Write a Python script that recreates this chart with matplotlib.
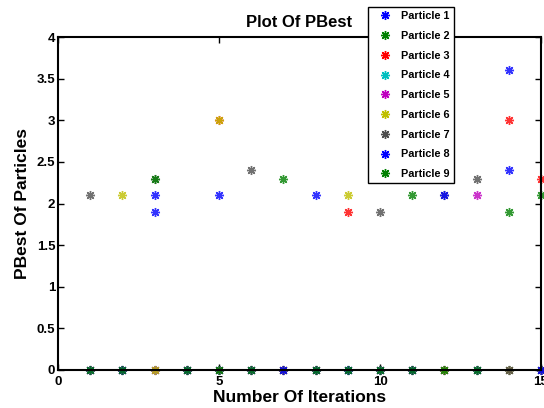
import numpy as np
import matplotlib
matplotlib.use("Agg")
import matplotlib.pyplot as plt

plt.rcParams['font.family'] = ['Liberation Sans', 'DejaVu Sans']
plt.rcParams['font.weight'] = 'bold'

# pbest of each particle per iteration (1..15)
iterations = np.arange(1, 16)
p1 = [0, 0, 2.1, 0, 0, 0, 0, 2.1, 0, 0, 0, 0, 0, 3.6, 0]
p2 = [0, 0, 0, 0, 0, 0, 0, 0, 0, 0, 2.1, 0, 0, 0, 0]
p3 = [0, 0, 0, 0, 3.0, 0, 0, 0, 1.9, 0, 0, 0, 0, 3.0, 2.3]
p4 = [0, 0, 0, 0, 0, 0, 0, 0, 0, 0, 0, 0, 0, 0, 0]
p5 = [0, 0, 0, 0, 0, 0, 0, 0, 0, 0, 0, 0, 2.1, 0, 0]
p6 = [0, 2.1, 0, 0, 3.0, 0, 0, 0, 2.1, 0, 0, 0, 0, 0, 0]
p7 = [2.1, 0, 2.3, 0, 0, 2.4, 0, 0, 0, 1.9, 0, 2.1, 2.3, 0, 0]
p8 = [0, 0, 1.9, 0, 2.1, 0, 0, 0, 0, 0, 0, 2.1, 0, 2.4, 0]
p9 = [0, 0, 2.3, 0, 0, 0, 2.3, 0, 0, 0, 0, 0, 0, 1.9, 2.1]
particles = [p1, p2, p3, p4, p5, p6, p7, p8, p9]
labels = ["Particle %d" % (i + 1) for i in range(9)]

# matlab default colour order
colors = [(0, 0, 1), (0, 0.5, 0), (1, 0, 0), (0, 0.75, 0.75),
          (0.75, 0, 0.75), (0.75, 0.75, 0), (0.3, 0.3, 0.3),
          (0, 0, 1), (0, 0.5, 0)]

fig = plt.figure(figsize=(5.44, 4.08), dpi=100)
ax = fig.add_axes([58 / 544, 1 - 370 / 408, 483 / 544, 333 / 408])

for vals, col, lab in zip(particles, colors, labels):
    # semi-transparent so overlapping marks blend like the original
    ax.plot(iterations, vals, linestyle='none', marker=(8, 2, 0),
            markersize=6.5, markeredgewidth=1.0, color=col, alpha=0.8,
            label=lab, clip_on=False)

ax.set_xlim(0, 15)
ax.set_ylim(0, 4)
ax.set_xticks([0, 5, 10, 15])
ax.set_yticks(np.arange(0, 4.01, 0.5))
ax.set_yticklabels(["0", "0.5", "1", "1.5", "2", "2.5", "3", "3.5", "4"])
ax.tick_params(direction='in', top=True, right=True, length=4,
               width=1, labelsize=9.5)
ax.tick_params(axis='x', pad=4)
ax.tick_params(axis='y', pad=2)
for lbl in ax.get_xticklabels() + ax.get_yticklabels():
    lbl.set_fontweight('bold')
for sp in ax.spines.values():
    sp.set_linewidth(1.5)

ax.set_xlabel("Number Of Iterations", fontsize=12.5, fontweight='bold', labelpad=2)
ax.set_ylabel("PBest Of Particles", fontsize=12.5, fontweight='bold', labelpad=5)
ax.set_title("Plot Of PBest", fontsize=12, fontweight='bold', pad=7)

leg = ax.legend(loc='lower left', bbox_to_anchor=(368 / 544, 1 - 183 / 408),
                bbox_transform=fig.transFigure, prop={'size': 7.8, 'weight': 'bold'},
                frameon=True, fancybox=False, framealpha=1, edgecolor='black',
                borderpad=0.35, labelspacing=0.9, handlelength=2.5,
                handletextpad=0.22, borderaxespad=0)
leg.get_frame().set_linewidth(1.0)
for h in leg.legend_handles:
    h.set_alpha(1)

fig.savefig("out.png", dpi=100)
